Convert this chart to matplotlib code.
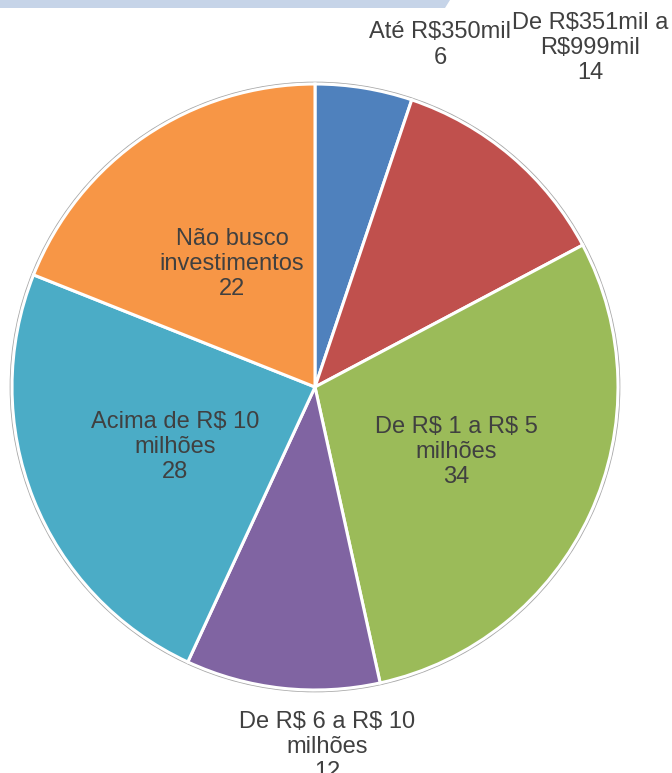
import matplotlib
matplotlib.use("Agg")
import matplotlib.pyplot as plt
from matplotlib.patches import Circle, Polygon

# data (clockwise from 12 o'clock)
categories = ["Até R$350mil", "De R$351mil a\nR$999mil", "De R$ 1 a R$ 5\nmilhões",
              "De R$ 6 a R$ 10\nmilhões", "Acima de R$ 10\nmilhões", "Não busco\ninvestimentos"]
values = [6, 14, 34, 12, 28, 22]
colors = ["#4F81BD", "#C0504D", "#9BBB59", "#8064A2", "#4BACC6", "#F79646"]

# label centres in pixel coords (origin top-left)
label_pos = [(440, 45), (590, 48), (456, 452), (327, 747), (175, 447), (232, 264)]

W, H = 672, 773
cx, cy, R = 315, 387, 303

fig = plt.figure(figsize=(W / 100, H / 100), dpi=100)
ax = fig.add_axes([0, 0, 1, 1])

# light header strip left over at the top
ax.add_patch(Polygon([(0, 0), (450, 0), (445, 8), (0, 8)], closed=True,
                     facecolor="#c6d4e8", edgecolor="none"))

# outer grey rim
ax.add_patch(Circle((cx, cy), R + 1.5, facecolor="none", edgecolor="#a8a8a8", lw=1.2))

# y axis is flipped below, so start at -90 and counterclock=True -> clockwise from top on screen
ax.pie(values, colors=colors, startangle=-90, counterclock=True, radius=R,
       center=(cx, cy), frame=True,
       wedgeprops=dict(edgecolor="white", linewidth=2.2))
ax.set_xlim(0, W)
ax.set_ylim(H, 0)
ax.set_aspect("auto")
ax.axis("off")

for name, v, (x, y) in zip(categories, values, label_pos):
    ax.text(x, y, f"{name}\n{v}", ha="center", va="center", fontsize=17,
            family="Liberation Sans", color="#404040", linespacing=1.2,
            parse_math=False)

fig.savefig("out.png", dpi=100)
